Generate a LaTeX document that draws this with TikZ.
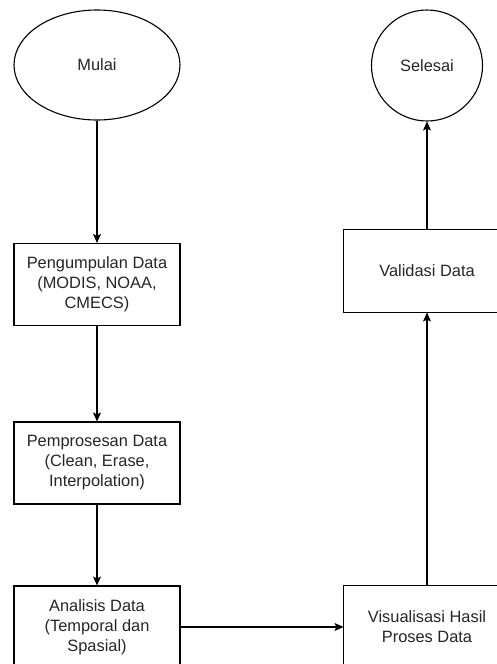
\documentclass[tikz,border=0pt]{standalone}
\usepackage{fontspec}
\setmainfont{Liberation Sans}
\usetikzlibrary{shapes.geometric,arrows.meta}
\begin{document}
\begin{tikzpicture}[x=1pt,y=-1pt,
  base/.style={draw=black,line width=1.1pt,fill=white,text=black!85,align=center,inner sep=0pt,
    font=\fontsize{16.4}{20}\selectfont},
  proc/.style={base,rectangle,minimum width=166pt,minimum height=82pt},
  openproc/.style={proc,draw=none},
  term/.style={base,ellipse,minimum width=166pt,minimum height=110pt},
  endc/.style={base,circle,minimum size=111pt},
  edge3/.style={line width=1.1pt,draw=black},
  conn/.style={line width=1.1pt,-{Stealth[length=9pt,width=8pt,inset=2pt]}}]
\useasboundingbox (0,0) rectangle (497,664);
\clip (0,0) rectangle (497,664);
\node[term] (mulai) at (97,65) {Mulai};
\node[endc] (selesai) at (427,65.5) {Selesai};
\node[proc] (kumpul) at (97,284.5) {Pengumpulan Data\\(MODIS, NOAA,\\CMECS)};
\node[proc] (proses) at (97,463) {Pemprosesan Data\\(Clean, Erase,\\Interpolation)};
\node[proc] (analisis) at (97,627) {Analisis Data\\(Temporal dan\\Spasial)};
\node[openproc] (visual) at (427,627) {Visualisasi Hasil\\Proses Data};
\node[openproc] (validasi) at (427,271) {Validasi Data};
\draw[edge3] (visual.north east) -- (visual.north west) -- (visual.south west) -- (visual.south east);
\draw[edge3] (validasi.north east) -- (validasi.north west) -- (validasi.south west) -- (validasi.south east);
\draw[conn] (mulai) -- (kumpul);
\draw[conn] (kumpul) -- (proses);
\draw[conn] (proses) -- (analisis);
\draw[conn] (analisis) -- (visual);
\draw[conn] (visual) -- (validasi);
\draw[conn] (validasi) -- (selesai);
\end{tikzpicture}
\end{document}
